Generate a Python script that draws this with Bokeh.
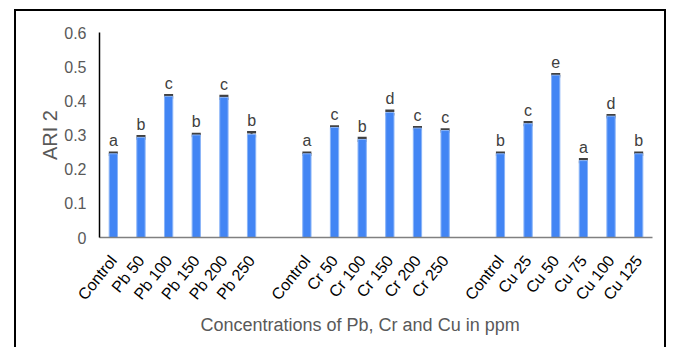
import numpy as np
from bokeh.plotting import figure
from bokeh.models import Range1d, FixedTicker, ColumnDataSource, Whisker, TeeHead, Title
from bokeh.core.properties import value
from bokeh.embed import file_html
from bokeh.resources import INLINE

# ---- data ----
pb_labels = ["Control", "Pb 50", "Pb 100", "Pb 150", "Pb 200", "Pb 250"]
pb_values = [0.245, 0.293, 0.413, 0.300, 0.410, 0.302]
pb_errors = [0.003, 0.003, 0.003, 0.003, 0.004, 0.006]
pb_letters = ["a", "b", "c", "b", "c", "b"]

cr_labels = ["Control", "Cr 50", "Cr 100", "Cr 150", "Cr 200", "Cr 250"]
cr_values = [0.245, 0.322, 0.287, 0.366, 0.320, 0.313]
cr_errors = [0.003, 0.003, 0.004, 0.005, 0.003, 0.003]
cr_letters = ["a", "c", "b", "d", "c", "c"]

cu_labels = ["Control", "Cu 25", "Cu 50", "Cu 75", "Cu 100", "Cu 125"]
cu_values = [0.245, 0.333, 0.475, 0.225, 0.355, 0.245]
cu_errors = [0.003, 0.004, 0.003, 0.004, 0.003, 0.003]
cu_letters = ["b", "c", "e", "a", "d", "b"]

y_ticks = [0, 0.1, 0.2, 0.3, 0.4, 0.5, 0.6]
y_tick_labels = ["0", "0.1", "0.2", "0.3", "0.4", "0.5", "0.6"]

x_title = "Concentrations of Pb, Cr and Cu in ppm"
y_title = "ARI 2"

# ---- build positions (one empty slot between groups) ----
groups = [(pb_labels, pb_values, pb_errors, pb_letters),
          (cr_labels, cr_values, cr_errors, cr_letters),
          (cu_labels, cu_values, cu_errors, cu_letters)]
xs, labels, vals, errs, lets = [], [], [], [], []
pos = 0
for gl, gv, ge, gt in groups:
    for l, v, e, t in zip(gl, gv, ge, gt):
        xs.append(pos)
        labels.append(l)
        vals.append(v)
        errs.append(e)
        lets.append(t)
        pos += 1
    pos += 1
n_slots = pos - 1

vals = np.array(vals)
errs = np.array(errs)
src = ColumnDataSource(dict(x=xs, top=vals, upper=vals + errs, lower=vals - errs,
                            lab=lets))

FONT = "Liberation Sans"

p = figure(width=652, height=340, output_backend="svg", toolbar_location=None,
           x_range=Range1d(-0.5, n_slots - 0.5), y_range=Range1d(0, 0.6),
           min_border_left=83, min_border_right=16, min_border_top=21,
           min_border_bottom=114)
p.styles = {"margin-left": "14px", "margin-top": "9px", "border": "2px solid black"}
p.outline_line_color = None
p.grid.grid_line_color = None
p.background_fill_color = "white"
p.border_fill_color = "white"

p.vbar(x="x", top="top", bottom=0, width=0.3, source=src,
       fill_color="#4285f4", line_color="#8ab4f8", line_width=1)

w = Whisker(base="x", upper="upper", lower="lower", source=src,
            line_color="#404040", line_width=2,
            upper_head=TeeHead(size=9, line_color="#404040", line_width=2.5),
            lower_head=TeeHead(size=9, line_color="#404040", line_width=2.5))
p.add_layout(w)

p.text(x="x", y="upper", text="lab", source=src, text_align="center",
       text_baseline="alphabetic", y_offset=-12,
       text_font=value(FONT), text_font_size="16px", text_color="#404040")

# axes
p.xaxis.ticker = FixedTicker(ticks=xs)
p.xaxis.major_label_overrides = {x: l for x, l in zip(xs, labels)}
p.xaxis.major_label_orientation = 0.9
p.xaxis.major_label_text_font = FONT
p.xaxis.major_label_text_font_size = "16px"
p.xaxis.major_label_text_color = "black"
p.xaxis.major_label_standoff = 14
p.xaxis.major_tick_line_color = None
p.xaxis.minor_tick_line_color = None
p.xaxis.axis_line_color = "#808080"
p.xaxis.axis_line_width = 1.5

xt = Title(text=x_title, align="left", offset=101,
           text_font=FONT, text_font_size="18px", text_font_style="normal",
           text_color="#595959", standoff=2)
p.add_layout(xt, "below")

p.yaxis.ticker = FixedTicker(ticks=y_ticks)
p.yaxis.major_label_overrides = {t: l for t, l in zip(y_ticks, y_tick_labels)}
p.yaxis.major_label_text_font = FONT
p.yaxis.major_label_text_font_size = "16px"
p.yaxis.major_label_text_color = "#595959"
p.yaxis.major_label_standoff = 7
p.yaxis.major_tick_line_color = None
p.yaxis.minor_tick_line_color = None
p.yaxis.axis_line_color = "black"
p.yaxis.axis_line_width = 1.5
p.yaxis.axis_label = y_title
p.yaxis.axis_label_text_font = FONT
p.yaxis.axis_label_text_font_size = "20px"
p.yaxis.axis_label_text_font_style = "normal"
p.yaxis.axis_label_text_color = "#595959"
p.yaxis.axis_label_standoff = 0

open("out.html", "w").write(file_html(p, INLINE))
